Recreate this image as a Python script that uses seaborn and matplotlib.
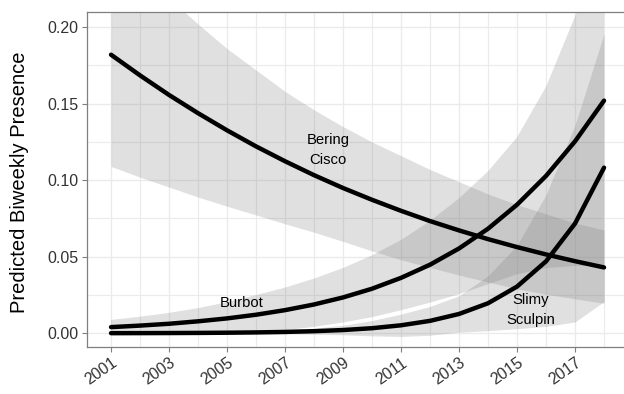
import matplotlib
matplotlib.use("Agg")
import matplotlib.pyplot as plt
import pandas as pd
import seaborn as sns

# Survey years
years = list(range(2001, 2019))

# Bering Cisco: predicted biweekly presence with interval bounds
cisco = [0.1820, 0.1685, 0.1557, 0.1438, 0.1326, 0.1221, 0.1124, 0.1033, 0.0949,
         0.0872, 0.0800, 0.0733, 0.0672, 0.0615, 0.0563, 0.0515, 0.0471, 0.0430]
cisco_lo = [0.1090, 0.1020, 0.0955, 0.0890, 0.0830, 0.0773, 0.0715, 0.0660, 0.0600,
            0.0538, 0.0480, 0.0430, 0.0380, 0.0335, 0.0290, 0.0255, 0.0225, 0.0196]
cisco_hi = [0.2550, 0.2380, 0.2190, 0.2020, 0.1860, 0.1720, 0.1580, 0.1460, 0.1350,
            0.1250, 0.1160, 0.1070, 0.0990, 0.0910, 0.0840, 0.0780, 0.0720, 0.0675]

# Burbot
burbot = [0.0040, 0.0050, 0.0062, 0.0078, 0.0097, 0.0121, 0.0151, 0.0188, 0.0234,
          0.0291, 0.0362, 0.0448, 0.0554, 0.0683, 0.0840, 0.1028, 0.1254, 0.1520]
burbot_lo = [-0.0007, -0.0008, -0.0008, -0.0007, -0.0004, 0.0005, 0.0020, 0.0042, 0.0070,
             0.0105, 0.0150, 0.0200, 0.0255, 0.0320, 0.0385, 0.0425, 0.0440, 0.0440]
burbot_hi = [0.0087, 0.0108, 0.0133, 0.0164, 0.0203, 0.0249, 0.0298, 0.0357, 0.0426,
             0.0509, 0.0609, 0.0733, 0.0881, 0.1058, 0.1280, 0.1610, 0.2070, 0.2610]

# Slimy Sculpin
sculpin = [0.00006, 0.00009, 0.00014, 0.00022, 0.00035, 0.00055, 0.00086, 0.00135, 0.0021,
           0.0033, 0.0052, 0.0081, 0.0126, 0.0196, 0.0305, 0.0470, 0.0717, 0.1082]
sculpin_lo = [-0.0001, -0.0001, -0.0001, -0.0002, -0.0002, -0.0003, -0.0004, -0.0006, -0.0010,
              -0.0017, -0.0021, -0.0013, 0.0007, 0.0017, 0.0030, 0.0045, 0.0074, 0.0207]
sculpin_hi = [0.0002, 0.0003, 0.0004, 0.0006, 0.0009, 0.0014, 0.0021, 0.0033, 0.0052,
              0.0083, 0.0125, 0.0175, 0.0245, 0.0375, 0.0575, 0.0905, 0.1360, 0.1957]

species = ["Bering Cisco", "Burbot", "Slimy Sculpin"]
x_ticks = list(range(2001, 2018, 2))
x_minor = list(range(2002, 2019, 2))
y_ticks = [0.00, 0.05, 0.10, 0.15, 0.20]
y_minor = [0.025, 0.075, 0.125, 0.175]

sns.set_theme(style="white")
plt.rcParams["font.family"] = ["Liberation Sans", "DejaVu Sans"]

fig = plt.figure(figsize=(6.24, 3.94), dpi=100)
ax = fig.add_axes([0.1389, 0.1200, 0.8686, 0.8503])

# confidence ribbons
bands = [(cisco_lo, cisco_hi), (burbot_lo, burbot_hi), (sculpin_lo, sculpin_hi)]
for lo, hi in bands:
    ax.fill_between(years, lo, hi, color="#7a7a7a", alpha=0.23, linewidth=0, zorder=2)

# fitted curves
df = pd.DataFrame({
    "year": years * 3,
    "presence": cisco + burbot + sculpin,
    "species": [s for s in species for _ in years],
})
sns.lineplot(data=df, x="year", y="presence", hue="species",
             palette=["black"] * 3, linewidth=3.2, legend=False, ax=ax, zorder=3)

# species labels
ax.text(2008.48, 0.1195, "Bering\nCisco", ha="center", va="center",
        fontsize=10.7, color="black", linespacing=1.55, zorder=4)
ax.text(2005.5, 0.0200, "Burbot", ha="center", va="center",
        fontsize=10.7, color="black", zorder=4)
ax.text(2015.47, 0.0149, "Slimy\nSculpin", ha="center", va="center",
        fontsize=10.7, color="black", linespacing=1.55, zorder=4)

ax.set_xlim(2000.16, 2018.85)
ax.set_ylim(-0.0088, 0.2101)
ax.set_xticks(x_ticks)
ax.set_xticks(x_minor, minor=True)
ax.set_yticks(y_ticks)
ax.set_yticks(y_minor, minor=True)
ax.set_xticklabels([str(y) for y in x_ticks], rotation=35, ha="right",
                   rotation_mode="anchor")
ax.set_yticklabels([f"{v:.2f}" for v in y_ticks])

ax.grid(which="major", color="#ebebeb", linewidth=1.0, zorder=0)
ax.grid(which="minor", color="#ebebeb", linewidth=0.8, zorder=0)
ax.set_axisbelow(True)

ax.tick_params(which="major", direction="out", length=3.5, width=0.8,
               color="#7f7f7f", labelsize=11.5, labelcolor="#333333", pad=2.5,
               bottom=True, left=True)
ax.tick_params(which="minor", length=0)
for side in ["top", "bottom", "left", "right"]:
    ax.spines[side].set_color("#7f7f7f")
    ax.spines[side].set_linewidth(0.9)

ax.set_xlabel("")
ax.set_ylabel("")
fig.text(19.5 / 624, 1 - 182.5 / 394, "Predicted Biweekly Presence", rotation=90,
         ha="center", va="center", fontsize=14.5, color="black")

fig.savefig("out.png", dpi=100, facecolor="white")
